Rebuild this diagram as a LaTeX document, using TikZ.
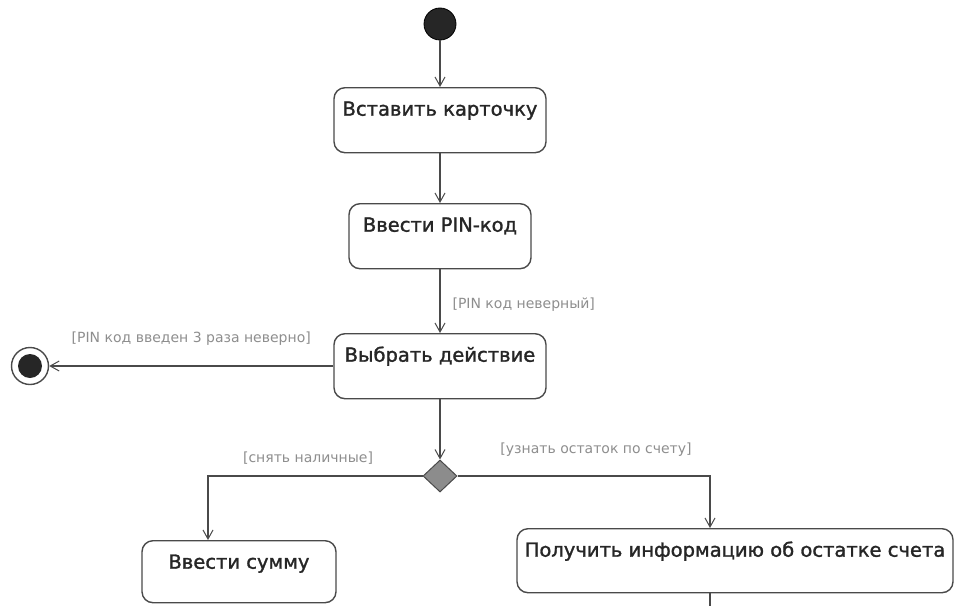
\documentclass[tikz,border=0pt]{standalone}
\usepackage{fontspec}
\setmainfont{DejaVu Sans}
\newfontfamily\actfont[FakeBold=1.4]{DejaVu Sans}
\usetikzlibrary{arrows.meta,shapes.geometric}
\definecolor{ln}{HTML}{4A4A4A}
\definecolor{lbl}{HTML}{8E8E8E}
\tikzset{
  act/.style={draw=ln, line width=1.4pt, rounded corners=11pt, fill=white,
    font=\actfont\fontsize{19.5}{21}\selectfont, text=black!85,
    inner xsep=0pt, inner ysep=7pt, text height=21pt, text depth=30pt},
  flow/.style={draw=ln, line width=1.1pt, -{Straight Barb[length=9pt,width=10pt,line width=1pt]}},
  plain/.style={draw=ln, line width=1.1pt},
  guard/.style={font=\fontsize{14}{16}\selectfont, text=lbl, inner sep=0pt},
  startnode/.style={circle, fill=black!85, draw=black, line width=0.8pt, minimum size=32pt, inner sep=0pt},
  endnode/.style={circle, draw=ln, line width=1.4pt, fill=white, minimum size=37pt, inner sep=0pt},
  decision/.style={diamond, draw=ln, fill=black!45, line width=1pt, minimum width=34pt, minimum height=32pt, inner sep=0pt}
}
\begin{document}
\begin{tikzpicture}[x=1pt,y=-1pt]
\useasboundingbox (0,0) rectangle (955,605);
\fill[white] (0,0) rectangle (955,605);

\node[startnode] (init) at (440,24) {};
\node[act, minimum width=212pt, anchor=north] (b1) at (440,87) {Вставить карточку};
\node[act, minimum width=182pt, anchor=north] (b2) at (440,203) {Ввести PIN-код};
\node[act, minimum width=212pt, anchor=north] (b3) at (440,333) {Выбрать действие};
\node[endnode] (fin) at (30,366) {};
\fill[black!85] (fin.center) circle (12pt);
\node[decision] (dec) at (440,476) {};
\node[act, minimum width=194pt, text depth=27pt, anchor=north] (b4) at (239,540) {Ввести сумму};
\node[act, minimum width=436pt, text depth=29pt, anchor=north] (b5) at (735,528) {Получить информацию об остатке счета};

\coordinate (lt) at (208,476);
\coordinate (rt) at (710,476);
\coordinate (out) at (710,606);

\draw[flow] (init) -- (b1);
\draw[flow] (b1) -- (b2);
\draw[flow] (b2) -- node[guard, anchor=west, xshift=12pt, yshift=-3pt] {[PIN код неверный]} (b3);
\draw[flow] (b3.west |- 0,366) -- node[guard, anchor=south, yshift=20pt] {[PIN код введен 3 раза неверно]} (fin);
\draw[flow] (b3) -- (dec);
\draw[flow] (dec.west) -- (lt) -- (lt |- b4.north);
\draw[flow] (dec.east) -- (rt) -- (rt |- b5.north);
\node[guard] at (308,458) {[снять наличные]};
\node[guard] at (596,450) {[узнать остаток по счету]};
\draw[plain] (rt |- b5.south) -- (out);
\end{tikzpicture}
\end{document}
